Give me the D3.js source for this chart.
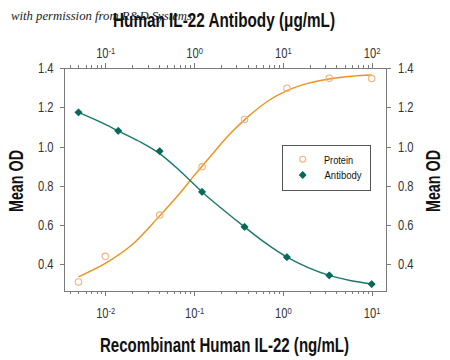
<!DOCTYPE html>
<html><head><meta charset="utf-8">
<script src="https://cdn.jsdelivr.net/npm/d3@7"></script>
<style>body{margin:0;background:#fff}</style>
</head><body><svg id="c" width="450" height="360"></svg>
<script>
// ---- data ----
// Protein: x in ng/mL (bottom axis)
const proteinConc = [0.005, 0.01, 0.041, 0.123, 0.37, 1.11, 3.33, 10];
const proteinOD   = [0.311, 0.441, 0.651, 0.897, 1.138, 1.297, 1.348, 1.346];
// Antibody: x in ug/mL (top axis)
const antibodyConc = [0.05, 0.14, 0.41, 1.23, 3.7, 11.1, 33.3, 100];
const antibodyOD   = [1.174, 1.080, 0.977, 0.769, 0.591, 0.437, 0.344, 0.300];
// fitted curves
const proteinFitConc = [0.005, 0.01, 0.02, 0.04, 0.07, 0.1, 0.15, 0.25, 0.4, 0.7, 1.1, 2, 3.3, 6, 10];
const proteinFitOD   = [0.337, 0.405, 0.500, 0.642, 0.765, 0.852, 0.946, 1.061, 1.150, 1.236, 1.284, 1.324, 1.344, 1.358, 1.364];
const antibodyFitConc = [0.05, 0.085, 0.14, 0.24, 0.41, 0.71, 1.23, 2.16, 3.7, 6.4, 11.1, 19.3, 33.3, 57, 100];
const antibodyFitOD   = [1.174, 1.128, 1.080, 1.027, 0.964, 0.872, 0.769, 0.676, 0.591, 0.508, 0.437, 0.384, 0.344, 0.318, 0.300];
// ticks
const bottomTicks = [0.01, 0.1, 1, 10];
const bottomExp = ["-2", "-1", "0", "1"];
const topTicks = [0.1, 1, 10, 100];
const topExp = ["-1", "0", "1", "2"];
const yTicks = [0.4, 0.6, 0.8, 1.0, 1.2, 1.4];
const seriesNames = ["Protein", "Antibody"];
const titleTop = "Human IL-22 Antibody (\u03bcg/mL)";
const titleBottom = "Recombinant Human IL-22 (ng/mL)";
const yTitle = "Mean OD";
const watermark = "with permission from R&D Systems";

// ---- layout ----
const svg = d3.select("#c");
const P = {left: 64, right: 386.5, top: 68, bottom: 291};
const xB = d3.scaleLog().domain([0.003434, 14.68]).range([P.left, P.right]);
const xT = d3.scaleLog().domain([0.03434, 146.8]).range([P.left, P.right]);
const y = d3.scaleLinear().domain([0.2646, 1.4]).range([P.bottom, P.top]);

const FONT = "'Liberation Sans', Arial, sans-serif";
const frameColor = "#7a7a7a";
const orange = "#f0901c", orangeMarker = "#f2b27c";
const teal = "#17786a", tealMarker = "#07695a";

function minors(domain) {
  const out = [];
  const lo = Math.floor(Math.log10(domain[0])), hi = Math.ceil(Math.log10(domain[1]));
  for (let e = lo; e <= hi; e++) for (let m = 2; m <= 9; m++) {
    const v = m * Math.pow(10, e);
    if (v >= domain[0] && v <= domain[1]) out.push(v);
  }
  return out;
}

// watermark (behind title)
svg.append("text").attr("x", 11).attr("y", 20)
  .attr("font-family", "'Liberation Serif', 'DejaVu Serif', serif")
  .attr("font-style", "italic").attr("font-size", 12).attr("fill", "#222")
  .attr("textLength", 181).attr("lengthAdjust", "spacingAndGlyphs")
  .text(watermark);

// frame
svg.append("rect").attr("x", P.left).attr("y", P.top)
  .attr("width", P.right - P.left).attr("height", P.bottom - P.top)
  .attr("fill", "none").attr("stroke", frameColor).attr("stroke-width", 1)
  .attr("shape-rendering", "crispEdges");

function styleAxis(g) {
  g.select(".domain").remove();
  g.selectAll(".tick line").attr("stroke", frameColor).attr("shape-rendering", "crispEdges");
  g.selectAll("text").attr("font-family", FONT).attr("font-size", 14).attr("fill", "#333");
}
function sup(g, exps, k) {
  g.selectAll(".tick text").each(function(d, i) {
    const t = d3.select(this);
    t.text(null).attr("transform", `scale(${k},1)`);
    t.append("tspan").text("10");
    t.append("tspan").attr("dy", "-0.45em").attr("font-size", "0.68em").text(exps[i]);
  });
}

// bottom axis
const gB = svg.append("g").attr("transform", `translate(0,${P.bottom})`);
gB.call(d3.axisBottom(xB).tickValues(minors(xB.domain())).tickSize(3).tickFormat(""));
const gBM = svg.append("g").attr("transform", `translate(0,${P.bottom})`);
gBM.call(d3.axisBottom(xB).tickValues(bottomTicks).tickSize(5).tickPadding(12));
styleAxis(gB); styleAxis(gBM); sup(gBM, bottomExp, 0.8);

// top axis
const gT = svg.append("g").attr("transform", `translate(0,${P.top})`);
gT.call(d3.axisTop(xT).tickValues(minors(xT.domain())).tickSize(3).tickFormat(""));
const gTM = svg.append("g").attr("transform", `translate(0,${P.top})`);
gTM.call(d3.axisTop(xT).tickValues(topTicks).tickSize(5).tickPadding(5));
styleAxis(gT); styleAxis(gTM); sup(gTM, topExp, 0.8);

// y axes
const kY = 0.8;
const gL = svg.append("g").attr("transform", `translate(${P.left},0)`);
gL.call(d3.axisLeft(y).tickValues(yTicks).tickSize(4).tickFormat(d3.format(".1f")));
styleAxis(gL);
gL.selectAll(".tick text").attr("x", -10.5 / kY).attr("transform", `scale(${kY},1)`);
const gR = svg.append("g").attr("transform", `translate(${P.right},0)`);
gR.call(d3.axisRight(y).tickValues(yTicks).tickSize(4).tickFormat(d3.format(".1f")));
styleAxis(gR);
gR.selectAll(".tick text").attr("x", 11.5 / kY).attr("transform", `scale(${kY},1)`);

// curves
const lineB = d3.line().x(d => xB(d[0])).y(d => y(d[1])).curve(d3.curveCatmullRom.alpha(0.5));
const lineT = d3.line().x(d => xT(d[0])).y(d => y(d[1])).curve(d3.curveCatmullRom.alpha(0.5));
svg.append("path").datum(d3.zip(proteinFitConc, proteinFitOD))
  .attr("d", lineB).attr("fill", "none").attr("stroke", orange).attr("stroke-width", 1.4);
svg.append("path").datum(d3.zip(antibodyFitConc, antibodyFitOD))
  .attr("d", lineT).attr("fill", "none").attr("stroke", teal).attr("stroke-width", 1.4);

// markers
svg.append("g").selectAll("circle").data(d3.zip(proteinConc, proteinOD)).join("circle")
  .attr("cx", d => xB(d[0])).attr("cy", d => y(d[1])).attr("r", 3.2)
  .attr("fill", "none").attr("stroke", orangeMarker).attr("stroke-width", 1.1);
const diamond = d3.symbol().type(d3.symbolSquare).size(22);
svg.append("g").selectAll("path").data(d3.zip(antibodyConc, antibodyOD)).join("path")
  .attr("d", diamond)
  .attr("transform", d => `translate(${xT(d[0])},${y(d[1])}) rotate(45)`)
  .attr("fill", tealMarker).attr("stroke", tealMarker).attr("stroke-width", 1).attr("stroke-linejoin", "round");

// legend
const lg = svg.append("g");
lg.append("rect").attr("x", 282).attr("y", 145).attr("width", 88).attr("height", 45)
  .attr("fill", "#fff").attr("stroke", "#555").attr("stroke-width", 1).attr("shape-rendering", "crispEdges");
lg.append("circle").attr("cx", 302.7).attr("cy", 159.3).attr("r", 3)
  .attr("fill", "none").attr("stroke", orangeMarker).attr("stroke-width", 1.1);
lg.append("path").attr("d", diamond).attr("transform", "translate(302.7,175) rotate(45)")
  .attr("fill", tealMarker).attr("stroke", tealMarker).attr("stroke-width", 1).attr("stroke-linejoin", "round");
lg.append("text").attr("x", 324).attr("y", 163.5).attr("font-family", FONT).attr("font-size", 11.5)
  .attr("fill", "#111").attr("textLength", 29).attr("lengthAdjust", "spacingAndGlyphs").text(seriesNames[0]);
lg.append("text").attr("x", 324.5).attr("y", 179).attr("font-family", FONT).attr("font-size", 11.5)
  .attr("fill", "#111").attr("textLength", 37).attr("lengthAdjust", "spacingAndGlyphs").text(seriesNames[1]);

// titles
svg.append("text").attr("x", 113).attr("y", 26.7).attr("font-family", FONT).attr("font-weight", "bold")
  .attr("font-size", 20.5).attr("fill", "#111").attr("textLength", 222).attr("lengthAdjust", "spacingAndGlyphs")
  .text(titleTop);
svg.append("text").attr("x", 100).attr("y", 351.7).attr("font-family", FONT).attr("font-weight", "bold")
  .attr("font-size", 20).attr("fill", "#111").attr("textLength", 249).attr("lengthAdjust", "spacingAndGlyphs")
  .text(titleBottom);
[23.3, 440].forEach(bx => {
  svg.append("text").attr("transform", `translate(${bx},212) rotate(-90)`)
    .attr("font-family", FONT).attr("font-weight", "bold").attr("font-size", 20.5).attr("fill", "#111")
    .attr("textLength", 62).attr("lengthAdjust", "spacingAndGlyphs").text(yTitle);
});
</script></body></html>
